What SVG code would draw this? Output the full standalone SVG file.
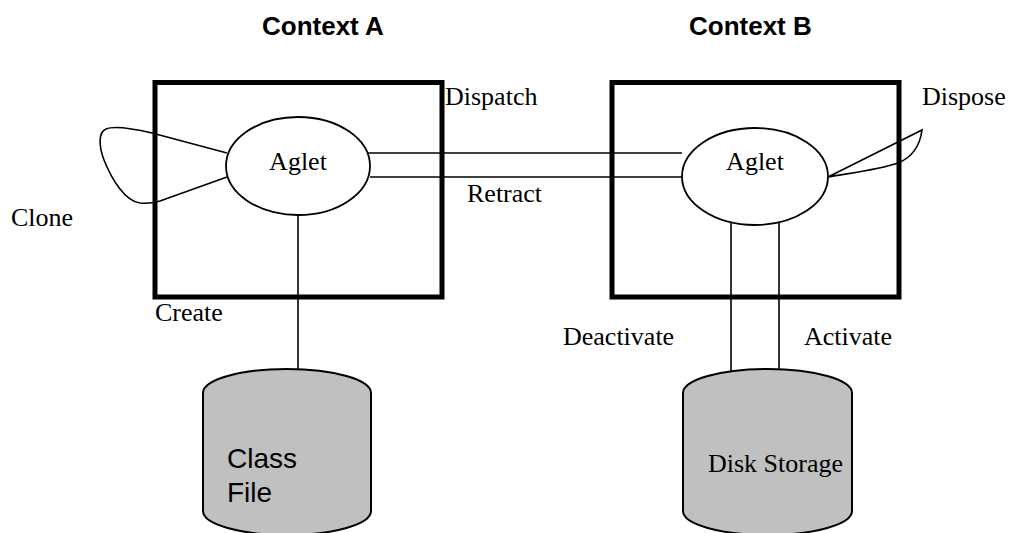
<svg xmlns="http://www.w3.org/2000/svg" width="1010" height="533" viewBox="0 0 1010 533">
  <style>
    .ctx { fill: none; stroke: #000; stroke-width: 5; }
    .link { fill: none; stroke: #000; stroke-width: 1.6; }
    .agent { fill: #fff; stroke: #000; stroke-width: 1.8; }
    .store { fill: #c0c0c0; stroke: #000; stroke-width: 2; }
    .serif { font-family: "Liberation Serif", "Times New Roman", serif; font-size: 26px; fill: #000; }
    .sans { font-family: "Liberation Sans", Arial, sans-serif; fill: #000; }
    .head { font-size: 26px; font-weight: bold; }
  </style>

  <!-- column headings -->
  <g id="heading-a"><text class="sans head" x="262" y="35">Context A</text></g>
  <g id="heading-b"><text class="sans head" x="689" y="35">Context B</text></g>

  <!-- context frames -->
  <g id="context-a"><rect class="ctx" x="155" y="82.5" width="287" height="214.5"/></g>
  <g id="context-b"><rect class="ctx" x="612" y="82.5" width="287" height="214.5"/></g>

  <!-- transitions between agents, contexts and storage -->
  <g id="connectors">
    <line class="link" x1="368" y1="153" x2="682" y2="153"/>
    <line class="link" x1="370" y1="177" x2="683" y2="177"/>
    <line class="link" x1="298" y1="214" x2="298" y2="369.5"/>
    <line class="link" x1="731" y1="220" x2="731" y2="371.5"/>
    <line class="link" x1="779" y1="220" x2="779" y2="369.5"/>
    <!-- clone loop -->
    <path class="link" d="M227,177 L160,201 Q150,204 140,203 C125,201 112,180 104,160 C99,147 98,132 106,129 C115,125 135,129 152,133 L227,153"/>
    <!-- dispose loop -->
    <path class="link" d="M828,177 L922,130 C920,145 913,157 898,163 C878,170 850,173 828,177"/>
  </g>

  <!-- agents -->
  <g id="aglet-a">
    <ellipse class="agent" cx="298" cy="166" rx="72" ry="49"/>
    <text class="serif" x="298" y="170" text-anchor="middle">Aglet</text>
  </g>
  <g id="aglet-b">
    <ellipse class="agent" cx="755" cy="176.5" rx="73" ry="48.5"/>
    <text class="serif" x="755" y="170" text-anchor="middle">Aglet</text>
  </g>

  <!-- storage cylinders -->
  <g id="class-file">
    <path class="store" d="M203,393 A84,24 0 0 1 371,393 L371,511 A84,24 0 0 1 203,511 Z"/>
    <text class="sans" font-size="28" x="227" y="468">Class</text>
    <text class="sans" font-size="28" x="227" y="502">File</text>
  </g>
  <g id="disk-storage">
    <path class="store" d="M683,393 A84.5,24 0 0 1 852,393 L852,511 A84.5,24 0 0 1 683,511 Z"/>
    <text class="serif" x="708" y="472">Disk Storage</text>
  </g>

  <!-- transition labels -->
  <g id="labels">
    <text class="serif" x="445" y="105">Dispatch</text>
    <text class="serif" x="467" y="202">Retract</text>
    <text class="serif" x="11" y="226">Clone</text>
    <text class="serif" x="155" y="321">Create</text>
    <text class="serif" x="922" y="105">Dispose</text>
    <text class="serif" x="563" y="345">Deactivate</text>
    <text class="serif" x="804" y="345">Activate</text>
  </g>
</svg>
